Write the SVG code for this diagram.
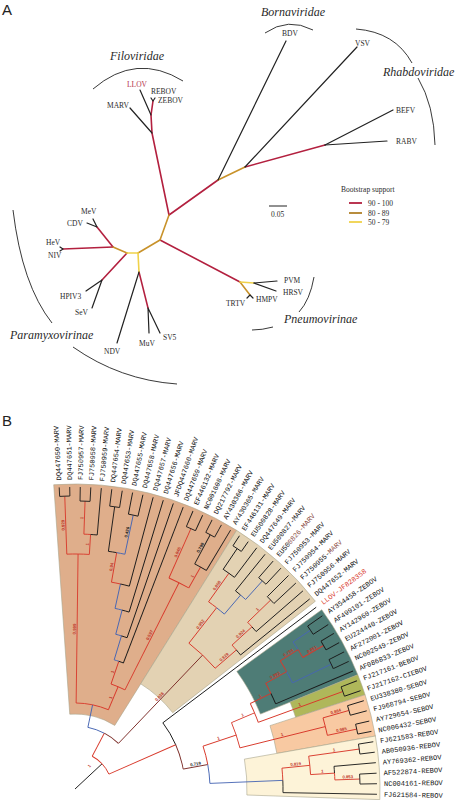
<svg xmlns="http://www.w3.org/2000/svg" width="459" height="800" viewBox="0 0 459 800">
<style>
.ser{font-family:"Liberation Serif","Times New Roman",serif;fill:#2a2a2a}
.tip{font-size:7.5px}
.fam{font-size:12px;font-style:italic}
.lg{font-size:7.5px}
.pan{font-family:"Liberation Sans",Arial,sans-serif;font-size:15px;fill:#222}
.ca{fill:none;stroke-linecap:round;stroke-linejoin:round}
.cr{stroke:#b3203f;stroke-width:1.6}
.co{stroke:#c8922a;stroke-width:1.6}
.cy{stroke:#f0d24a;stroke-width:1.6}
.ck{stroke:#222;stroke-width:1.2}
.arc{fill:none;stroke:#222;stroke-width:0.9}
#treeB line,#treeB circle{fill:none;stroke-width:0.9}
.k{stroke:#1a1a1a}.r{stroke:#d8392b}.b{stroke:#4766b3}.d{stroke:#7b2b26}
.lb{font-family:"Liberation Mono","Courier New",monospace;font-size:7px;fill:#111}
.s{font-family:"Liberation Sans",Arial,sans-serif;font-size:4.3px;font-weight:bold;fill:#c0392b;text-anchor:middle}
.sk{fill:#222}
.reg{stroke:#a9a58c;stroke-width:0.6}
</style>
<rect width="459" height="800" fill="#fff"/>
<!-- PANEL A -->
<text class="pan" x="2" y="15">A</text>
<g id="connectorsA" class="ca">
<path class="cr" d="M169,215 L152,133 L151,115 L153,101"/>
<path class="cr" d="M169,215 L218,180"/>
<path class="cr" d="M245,167 L325,145"/>
<path class="cr" d="M160,240 L240,282"/>
<path class="cr" d="M127,253 L102,280"/>
<path class="cr" d="M113,247 L97,227"/>
<path class="cr" d="M113,247 L63,249"/>
<path class="cr" d="M139,272 L148,308"/>
<path class="co" d="M169,215 L160,240 L138,253"/>
<path class="co" d="M218,180 L245,167"/>
<path class="co" d="M127,253 L113,247"/>
<path class="co" d="M240,282 L250,295"/>
<path class="cy" d="M138,253 L127,253"/>
<path class="cy" d="M138,253 L139,272"/>
<path class="cy" d="M240,282 L254,283"/>
<path class="ck" d="M152,133 L130,108"/>
<path class="ck" d="M151,115 L140,90"/>
<path class="ck" d="M153,101 L151,98 M153,101 L155,98"/>
<path class="ck" d="M218,180 L286,41"/>
<path class="ck" d="M245,167 L357,47"/>
<path class="ck" d="M325,145 L393,110"/>
<path class="ck" d="M325,145 L387,141"/>
<path class="ck" d="M254,283 L277,281"/>
<path class="ck" d="M254,283 L276,291"/>
<path class="ck" d="M250,295 L253,298 M250,295 L247,298"/>
<path class="ck" d="M97,227 L93,219 M97,227 L87,223"/>
<path class="ck" d="M63,249 L60,247 M63,249 L60,251"/>
<path class="ck" d="M102,280 L86,291 M102,280 L92,308"/>
<path class="ck" d="M139,272 L117,343"/>
<path class="ck" d="M148,308 L149,333 M148,308 L160,333"/>
</g>
<g id="cladesA">
<g id="filoviridae"><path class="arc" d="M93,89 Q136,52 183,81"/><text class="ser fam" x="110" y="60">Filoviridae</text></g>
<g id="bornaviridae"><path class="arc" d="M265,33 Q288,17 313,30"/><text class="ser fam" x="261" y="16">Bornaviridae</text></g>
<g id="rhabdoviridae"><path class="arc" d="M356,29 Q395,32 412,63 M418,78 Q434,105 435,145"/><text class="ser fam" x="383" y="76">Rhabdoviridae</text></g>
<g id="pneumovirinae"><path class="arc" d="M314,277 Q310,300 299,312 M273,327 Q262,330 252,330"/><text class="ser fam" x="284" y="323">Pneumovirinae</text></g>
<g id="paramyxovirinae"><path class="arc" d="M13,210 Q22,285 52,323 M73,347 Q120,380 177,384"/><text class="ser fam" x="10" y="339">Paramyxovirinae</text></g>
</g>
<g id="tipsA" class="ser tip">
<g id="a-llov"><text x="127" y="87" fill="#b3314a">LLOV</text></g>
<g id="a-rebov"><text x="151" y="94">REBOV</text></g>
<g id="a-zebov"><text x="158" y="103">ZEBOV</text></g>
<g id="a-marv"><text x="107" y="108">MARV</text></g>
<g id="a-bdv"><text x="282" y="36">BDV</text></g>
<g id="a-vsv"><text x="355" y="46">VSV</text></g>
<g id="a-befv"><text x="396" y="113">BEFV</text></g>
<g id="a-rabv"><text x="396" y="144">RABV</text></g>
<g id="a-pvm"><text x="284" y="283">PVM</text></g>
<g id="a-hrsv"><text x="283" y="295">HRSV</text></g>
<g id="a-hmpv"><text x="256" y="302">HMPV</text></g>
<g id="a-trtv"><text x="226" y="306">TRTV</text></g>
<g id="a-mev"><text x="81" y="214">MeV</text></g>
<g id="a-cdv"><text x="67" y="226">CDV</text></g>
<g id="a-hev"><text x="46" y="245">HeV</text></g>
<g id="a-niv"><text x="48" y="258">NIV</text></g>
<g id="a-hpiv3"><text x="60" y="299">HPIV3</text></g>
<g id="a-sev"><text x="75" y="315">SeV</text></g>
<g id="a-ndv"><text x="104" y="354">NDV</text></g>
<g id="a-muv"><text x="139" y="346">MuV</text></g>
<g id="a-sv5"><text x="163" y="340">SV5</text></g>
</g>
<g id="legendA">
<text class="ser lg" x="341" y="192">Bootstrap support</text>
<line x1="349" y1="203" x2="362" y2="203" stroke="#b3203f" stroke-width="1.8"/>
<line x1="349" y1="213" x2="362" y2="213" stroke="#b08127" stroke-width="1.8"/>
<line x1="349" y1="222" x2="362" y2="222" stroke="#f0d24a" stroke-width="1.8"/>
<text class="ser lg" x="368" y="206">90 - 100</text>
<text class="ser lg" x="368" y="215.5">80 - 89</text>
<text class="ser lg" x="368" y="224.5">50 - 79</text>
<line x1="269" y1="206" x2="287" y2="206" stroke="#222" stroke-width="1"/>
<text class="ser lg" x="271" y="217">0.05</text>
</g>
<!-- PANEL B -->
<text class="pan" x="2" y="426">B</text>
<g id="treeB" transform="translate(75,789) rotate(0.5)">
<g id="regions">
<path class="reg" fill="#dfae8b" d="M-5.88,-74.77 L-23.93,-304.06 A305,305 0 0 1 159.36,-260.06 L39.19,-63.95 A75,75 0 0 0 -5.88,-74.77 Z"/>
<path class="reg" fill="#e3d2b3" d="M64.79,-105.73 L159.36,-260.06 A305,305 0 0 1 238.70,-189.87 L97.04,-77.19 A124,124 0 0 0 64.79,-105.73 Z"/>
<path class="reg" fill="#4e7c76" d="M160.77,-118.96 L245.18,-181.42 A305,305 0 0 1 281.78,-116.72 L184.78,-76.54 A200,200 0 0 0 160.77,-118.96 Z"/>
<path class="reg" fill="#afb75a" d="M214.34,-88.78 L281.78,-116.72 A305,305 0 0 1 289.24,-96.78 L220.01,-73.61 A232,232 0 0 0 214.34,-88.78 Z"/>
<path class="reg" fill="#f8c9a2" d="M194.41,-65.05 L289.24,-96.78 A305,305 0 0 1 299.89,-55.58 L201.57,-37.36 A205,205 0 0 0 194.41,-65.05 Z"/>
<path class="reg" fill="#fdf3d8" d="M169.12,-31.35 L299.89,-55.58 A305,305 0 0 1 304.90,7.98 L171.94,4.50 A172,172 0 0 0 169.12,-31.35 Z"/>
</g>
<g id="connectorsB">
<line class="k" x1="0" x2="37" transform="rotate(-43.5)"/>
<circle class="r" r="37" pathLength="360" stroke-dasharray="19.29 360" transform="rotate(-62.79)"/>
<line class="r" x1="37" x2="63" transform="rotate(-62.79)"/>
<circle class="r" r="37" pathLength="360" stroke-dasharray="19.28 360" transform="rotate(-43.5)"/>
<line class="r" x1="37" x2="110" transform="rotate(-24.22)"/>
<circle class="b" r="63" pathLength="360" stroke-dasharray="15.91 360" transform="rotate(-78.7)"/>
<line class="b" x1="63" x2="86" transform="rotate(-78.7)"/>
<circle class="d" r="63" pathLength="360" stroke-dasharray="15.91 360" transform="rotate(-62.79)"/>
<line class="d" x1="63" x2="185" transform="rotate(-46.88)"/>
<circle class="r" r="86" pathLength="360" stroke-dasharray="11.05 360" transform="rotate(-89.75)"/>
<line class="r" x1="86" x2="235" transform="rotate(-89.75)"/>
<circle class="r" r="86" pathLength="360" stroke-dasharray="11.04 360" transform="rotate(-78.7)"/>
<line class="r" x1="86" x2="111" transform="rotate(-67.66)"/>
<circle class="r" r="235" pathLength="360" stroke-dasharray="2.75 360" transform="rotate(-92.5)"/>
<line class="r" x1="235" x2="293" transform="rotate(-92.5)"/>
<circle class="r" r="235" pathLength="360" stroke-dasharray="2.75 360" transform="rotate(-89.75)"/>
<line class="r" x1="235" x2="255" transform="rotate(-87)"/>
<circle class="k" r="293" pathLength="360" stroke-dasharray="2 360" transform="rotate(-93.5)"/>
<line class="k" x1="293" x2="302" transform="rotate(-93.5)"/>
<line class="k" x1="293" x2="302" transform="rotate(-91.5)"/>
<circle class="r" r="255" pathLength="360" stroke-dasharray="1.5 360" transform="rotate(-88.5)"/>
<line class="r" x1="255" x2="288" transform="rotate(-88.5)"/>
<circle class="k" r="255" pathLength="360" stroke-dasharray="1.5 360" transform="rotate(-87)"/>
<line class="k" x1="255" x2="302" transform="rotate(-85.5)"/>
<circle class="k" r="288" pathLength="360" stroke-dasharray="2 360" transform="rotate(-89.5)"/>
<line class="k" x1="288" x2="302" transform="rotate(-89.5)"/>
<line class="k" x1="288" x2="302" transform="rotate(-87.5)"/>
<circle class="r" r="111" pathLength="360" stroke-dasharray="7.81 360" transform="rotate(-71.56)"/>
<line class="r" x1="111" x2="135" transform="rotate(-71.56)"/>
<line class="r" x1="111" x2="231" transform="rotate(-63.75)"/>
<circle class="b" r="135" pathLength="360" stroke-dasharray="2.065 360" transform="rotate(-73.625)"/>
<line class="b" x1="135" x2="160" transform="rotate(-73.625)"/>
<circle class="k" r="135" pathLength="360" stroke-dasharray="2.06 360" transform="rotate(-71.56)"/>
<line class="k" x1="135" x2="302" transform="rotate(-69.5)"/>
<circle class="b" r="160" pathLength="360" stroke-dasharray="2.125 360" transform="rotate(-75.75)"/>
<line class="b" x1="160" x2="185" transform="rotate(-75.75)"/>
<circle class="k" r="160" pathLength="360" stroke-dasharray="2.125 360" transform="rotate(-73.625)"/>
<line class="k" x1="160" x2="302" transform="rotate(-71.5)"/>
<circle class="b" r="185" pathLength="360" stroke-dasharray="2.25 360" transform="rotate(-78)"/>
<line class="b" x1="185" x2="210" transform="rotate(-78)"/>
<circle class="k" r="185" pathLength="360" stroke-dasharray="2.25 360" transform="rotate(-75.75)"/>
<line class="k" x1="185" x2="302" transform="rotate(-73.5)"/>
<circle class="r" r="210" pathLength="360" stroke-dasharray="2.5 360" transform="rotate(-80.5)"/>
<line class="r" x1="210" x2="240" transform="rotate(-80.5)"/>
<circle class="k" r="210" pathLength="360" stroke-dasharray="2.5 360" transform="rotate(-78)"/>
<line class="k" x1="210" x2="302" transform="rotate(-75.5)"/>
<circle class="k" r="240" pathLength="360" stroke-dasharray="2 360" transform="rotate(-82.5)"/>
<line class="k" x1="240" x2="285" transform="rotate(-82.5)"/>
<circle class="b" r="240" pathLength="360" stroke-dasharray="2 360" transform="rotate(-80.5)"/>
<line class="b" x1="240" x2="280" transform="rotate(-78.5)"/>
<circle class="k" r="285" pathLength="360" stroke-dasharray="2 360" transform="rotate(-83.5)"/>
<line class="k" x1="285" x2="302" transform="rotate(-83.5)"/>
<line class="k" x1="285" x2="302" transform="rotate(-81.5)"/>
<circle class="k" r="280" pathLength="360" stroke-dasharray="2 360" transform="rotate(-79.5)"/>
<line class="k" x1="280" x2="302" transform="rotate(-79.5)"/>
<line class="k" x1="280" x2="302" transform="rotate(-77.5)"/>
<circle class="r" r="231" pathLength="360" stroke-dasharray="5.5 360" transform="rotate(-66.5)"/>
<line class="r" x1="231" x2="285" transform="rotate(-66.5)"/>
<line class="r" x1="231" x2="255" transform="rotate(-61)"/>
<circle class="k" r="285" pathLength="360" stroke-dasharray="2 360" transform="rotate(-67.5)"/>
<line class="k" x1="285" x2="302" transform="rotate(-67.5)"/>
<line class="k" x1="285" x2="302" transform="rotate(-65.5)"/>
<circle class="k" r="255" pathLength="360" stroke-dasharray="3 360" transform="rotate(-62.5)"/>
<line class="k" x1="255" x2="288" transform="rotate(-62.5)"/>
<line class="k" x1="255" x2="302" transform="rotate(-59.5)"/>
<circle class="k" r="288" pathLength="360" stroke-dasharray="2 360" transform="rotate(-63.5)"/>
<line class="k" x1="288" x2="302" transform="rotate(-63.5)"/>
<line class="k" x1="288" x2="302" transform="rotate(-61.5)"/>
<circle class="r" r="185" pathLength="360" stroke-dasharray="11.25 360" transform="rotate(-52.5)"/>
<line class="r" x1="185" x2="230" transform="rotate(-52.5)"/>
<line class="r" x1="185" x2="213" transform="rotate(-41.25)"/>
<circle class="r" r="230" pathLength="360" stroke-dasharray="2.5 360" transform="rotate(-55)"/>
<line class="r" x1="230" x2="265" transform="rotate(-55)"/>
<circle class="b" r="230" pathLength="360" stroke-dasharray="2.5 360" transform="rotate(-52.5)"/>
<line class="b" x1="230" x2="255" transform="rotate(-50)"/>
<circle class="k" r="265" pathLength="360" stroke-dasharray="3 360" transform="rotate(-56.5)"/>
<line class="k" x1="265" x2="290" transform="rotate(-56.5)"/>
<line class="k" x1="265" x2="302" transform="rotate(-53.5)"/>
<circle class="k" r="290" pathLength="360" stroke-dasharray="2 360" transform="rotate(-57.5)"/>
<line class="k" x1="290" x2="302" transform="rotate(-57.5)"/>
<line class="k" x1="290" x2="302" transform="rotate(-55.5)"/>
<circle class="k" r="255" pathLength="360" stroke-dasharray="1.5 360" transform="rotate(-51.5)"/>
<line class="k" x1="255" x2="302" transform="rotate(-51.5)"/>
<circle class="b" r="255" pathLength="360" stroke-dasharray="1.5 360" transform="rotate(-50)"/>
<line class="b" x1="255" x2="280" transform="rotate(-48.5)"/>
<circle class="k" r="280" pathLength="360" stroke-dasharray="2 360" transform="rotate(-49.5)"/>
<line class="k" x1="280" x2="302" transform="rotate(-49.5)"/>
<line class="k" x1="280" x2="302" transform="rotate(-47.5)"/>
<circle class="r" r="213" pathLength="360" stroke-dasharray="1.75 360" transform="rotate(-43)"/>
<line class="r" x1="213" x2="240" transform="rotate(-43)"/>
<circle class="k" r="213" pathLength="360" stroke-dasharray="1.75 360" transform="rotate(-41.25)"/>
<line class="k" x1="213" x2="302" transform="rotate(-39.5)"/>
<circle class="r" r="240" pathLength="360" stroke-dasharray="1.5 360" transform="rotate(-44.5)"/>
<line class="r" x1="240" x2="272" transform="rotate(-44.5)"/>
<circle class="k" r="240" pathLength="360" stroke-dasharray="1.5 360" transform="rotate(-43)"/>
<line class="k" x1="240" x2="302" transform="rotate(-41.5)"/>
<circle class="k" r="272" pathLength="360" stroke-dasharray="2 360" transform="rotate(-45.5)"/>
<line class="k" x1="272" x2="302" transform="rotate(-45.5)"/>
<line class="k" x1="272" x2="302" transform="rotate(-43.5)"/>
<circle class="k" r="110" pathLength="360" stroke-dasharray="13.28 360" transform="rotate(-37.5)"/>
<line class="k" x1="110" x2="302" transform="rotate(-37.5)"/>
<circle class="d" r="110" pathLength="360" stroke-dasharray="13.28 360" transform="rotate(-24.22)"/>
<line class="d" x1="110" x2="135" transform="rotate(-10.94)"/>
<circle class="r" r="135" pathLength="360" stroke-dasharray="8.06 360" transform="rotate(-19)"/>
<line class="r" x1="135" x2="170" transform="rotate(-19)"/>
<circle class="b" r="135" pathLength="360" stroke-dasharray="8.065 360" transform="rotate(-10.94)"/>
<line class="b" x1="135" x2="208" transform="rotate(-2.875)"/>
<circle class="r" r="170" pathLength="360" stroke-dasharray="9 360" transform="rotate(-23.5)"/>
<line class="r" x1="170" x2="195" transform="rotate(-23.5)"/>
<line class="r" x1="170" x2="258" transform="rotate(-14.5)"/>
<circle class="r" r="195" pathLength="360" stroke-dasharray="6 360" transform="rotate(-26.5)"/>
<line class="r" x1="195" x2="218" transform="rotate(-26.5)"/>
<line class="r" x1="195" x2="285" transform="rotate(-20.5)"/>
<circle class="r" r="218" pathLength="360" stroke-dasharray="3 360" transform="rotate(-29.5)"/>
<line class="r" x1="218" x2="242" transform="rotate(-29.5)"/>
<circle class="k" r="218" pathLength="360" stroke-dasharray="3 360" transform="rotate(-26.5)"/>
<line class="k" x1="218" x2="302" transform="rotate(-23.5)"/>
<circle class="r" r="242" pathLength="360" stroke-dasharray="3 360" transform="rotate(-32.5)"/>
<line class="r" x1="242" x2="263" transform="rotate(-32.5)"/>
<circle class="b" r="242" pathLength="360" stroke-dasharray="3 360" transform="rotate(-29.5)"/>
<line class="b" x1="242" x2="285" transform="rotate(-26.5)"/>
<circle class="b" r="263" pathLength="360" stroke-dasharray="2 360" transform="rotate(-34.5)"/>
<line class="b" x1="263" x2="284" transform="rotate(-34.5)"/>
<circle class="r" r="263" pathLength="360" stroke-dasharray="2 360" transform="rotate(-32.5)"/>
<line class="r" x1="263" x2="287" transform="rotate(-30.5)"/>
<circle class="k" r="284" pathLength="360" stroke-dasharray="2 360" transform="rotate(-35.5)"/>
<line class="k" x1="284" x2="302" transform="rotate(-35.5)"/>
<line class="k" x1="284" x2="302" transform="rotate(-33.5)"/>
<circle class="k" r="287" pathLength="360" stroke-dasharray="2 360" transform="rotate(-31.5)"/>
<line class="k" x1="287" x2="302" transform="rotate(-31.5)"/>
<line class="k" x1="287" x2="302" transform="rotate(-29.5)"/>
<circle class="k" r="285" pathLength="360" stroke-dasharray="2 360" transform="rotate(-27.5)"/>
<line class="k" x1="285" x2="302" transform="rotate(-27.5)"/>
<line class="k" x1="285" x2="302" transform="rotate(-25.5)"/>
<circle class="k" r="285" pathLength="360" stroke-dasharray="2 360" transform="rotate(-21.5)"/>
<line class="k" x1="285" x2="302" transform="rotate(-21.5)"/>
<line class="k" x1="285" x2="302" transform="rotate(-19.5)"/>
<circle class="r" r="258" pathLength="360" stroke-dasharray="4 360" transform="rotate(-16.5)"/>
<line class="r" x1="258" x2="285" transform="rotate(-16.5)"/>
<line class="r" x1="258" x2="288" transform="rotate(-12.5)"/>
<circle class="k" r="285" pathLength="360" stroke-dasharray="2 360" transform="rotate(-17.5)"/>
<line class="k" x1="285" x2="302" transform="rotate(-17.5)"/>
<line class="k" x1="285" x2="302" transform="rotate(-15.5)"/>
<circle class="k" r="288" pathLength="360" stroke-dasharray="2 360" transform="rotate(-13.5)"/>
<line class="k" x1="288" x2="302" transform="rotate(-13.5)"/>
<line class="k" x1="288" x2="302" transform="rotate(-11.5)"/>
<circle class="r" r="208" pathLength="360" stroke-dasharray="3.375 360" transform="rotate(-6.25)"/>
<line class="r" x1="208" x2="236" transform="rotate(-6.25)"/>
<circle class="k" r="208" pathLength="360" stroke-dasharray="3.375 360" transform="rotate(-2.875)"/>
<line class="k" x1="208" x2="302" transform="rotate(0.5)"/>
<circle class="r" r="236" pathLength="360" stroke-dasharray="4.5 360" transform="rotate(-8.5)"/>
<line class="r" x1="236" x2="287" transform="rotate(-8.5)"/>
<line class="r" x1="236" x2="260" transform="rotate(-4)"/>
<circle class="k" r="287" pathLength="360" stroke-dasharray="2 360" transform="rotate(-9.5)"/>
<line class="k" x1="287" x2="302" transform="rotate(-9.5)"/>
<line class="k" x1="287" x2="302" transform="rotate(-7.5)"/>
<circle class="k" r="260" pathLength="360" stroke-dasharray="1.5 360" transform="rotate(-5.5)"/>
<line class="k" x1="260" x2="302" transform="rotate(-5.5)"/>
<circle class="r" r="260" pathLength="360" stroke-dasharray="1.5 360" transform="rotate(-4)"/>
<line class="r" x1="260" x2="285" transform="rotate(-2.5)"/>
<circle class="k" r="285" pathLength="360" stroke-dasharray="2 360" transform="rotate(-3.5)"/>
<line class="k" x1="285" x2="302" transform="rotate(-3.5)"/>
<line class="k" x1="285" x2="302" transform="rotate(-1.5)"/>
</g>
<g id="supportB">
<text class="s" x="27" y="-1.2" transform="rotate(-53)">1</text>
<text class="s" x="125" y="-1.2" fill="#7b2b26" transform="rotate(-46.88)">0.838</text>
<text class="s" x="160" y="-1.2" transform="rotate(-89.75)">0.999</text>
<text class="s" x="264" y="-1.2" transform="rotate(-92.5)">0.929</text>
<text class="s" x="245" y="-1.2" transform="rotate(-87)">1</text>
<text class="s" x="271" y="-1.2" transform="rotate(-88.5)">1</text>
<text class="s" x="98" y="-1.2" transform="rotate(-67.66)">1</text>
<text class="s" x="123" y="-1.2" transform="rotate(-71.56)">1</text>
<text class="s" x="225" y="-1.2" transform="rotate(-80.5)">0.94</text>
<text class="s sk" x="262" y="-1.2" transform="rotate(-78.5)">0.426</text>
<text class="s" x="171" y="-1.2" transform="rotate(-63.75)">0.597</text>
<text class="s" x="258" y="-1.2" transform="rotate(-66.5)">0.946</text>
<text class="s" x="243" y="-1.2" transform="rotate(-61)">1</text>
<text class="s sk" x="272" y="-1.2" transform="rotate(-62.5)">0.798</text>
<text class="s" x="207" y="-1.2" transform="rotate(-52.5)">0.952</text>
<text class="s" x="199" y="-1.2" transform="rotate(-41.25)">0.929</text>
<text class="s" x="248" y="-1.2" transform="rotate(-55)">0.858</text>
<text class="s" x="227" y="-1.2" transform="rotate(-43)">0.924</text>
<text class="s" x="256" y="-1.2" transform="rotate(-44.5)">1</text>
<text class="s sk" x="123" y="-1.2" transform="rotate(-10.94)">0.719</text>
<text class="s" x="152" y="-1.2" transform="rotate(-19)">1</text>
<text class="s" x="183" y="-1.2" transform="rotate(-23.5)">1</text>
<text class="s" x="207" y="-1.2" transform="rotate(-26.5)">1</text>
<text class="s" x="230" y="-1.2" transform="rotate(-29.5)">0.993</text>
<text class="s" x="253" y="-1.2" transform="rotate(-32.5)">0.794</text>
<text class="s" x="275" y="-1.2" transform="rotate(-30.5)">0.861</text>
<text class="s" x="240" y="-1.2" transform="rotate(-20.5)">1</text>
<text class="s" x="214" y="-1.2" transform="rotate(-14.5)">1</text>
<text class="s" x="272" y="-1.2" transform="rotate(-16.5)">0.864</text>
<text class="s" x="273" y="-1.2" transform="rotate(-12.5)">0.985</text>
<text class="s" x="222" y="-1.2" transform="rotate(-6.25)">0.819</text>
<text class="s" x="262" y="-1.2" transform="rotate(-8.5)">1</text>
<text class="s" x="248" y="-1.2" transform="rotate(-4)">1</text>
<text class="s" x="273" y="-1.2" transform="rotate(-2.5)">0.853</text>
</g>
<g id="leavesB" class="lb">
<g id="b01"><text x="309" dy="2.4" transform="rotate(-93.5)">DQ447650-MARV</text></g>
<g id="b02"><text x="309" dy="2.4" transform="rotate(-91.5)">DQ447651-MARV</text></g>
<g id="b03"><text x="309" dy="2.4" transform="rotate(-89.5)">FJ750957-MARV</text></g>
<g id="b04"><text x="309" dy="2.4" transform="rotate(-87.5)">FJ750958-MARV</text></g>
<g id="b05"><text x="309" dy="2.4" transform="rotate(-85.5)">FJ750959-MARV</text></g>
<g id="b06"><text x="309" dy="2.4" transform="rotate(-83.5)">DQ447654-MARV</text></g>
<g id="b07"><text x="309" dy="2.4" transform="rotate(-81.5)">DQ447653-MARV</text></g>
<g id="b08"><text x="309" dy="2.4" transform="rotate(-79.5)">DQ447655-MARV</text></g>
<g id="b09"><text x="309" dy="2.4" transform="rotate(-77.5)">DQ447658-MARV</text></g>
<g id="b10"><text x="309" dy="2.4" transform="rotate(-75.5)">DQ447657-MARV</text></g>
<g id="b11"><text x="309" dy="2.4" transform="rotate(-73.5)">DQ447656-MARV</text></g>
<g id="b12"><text x="309" dy="2.4" transform="rotate(-71.5)">JFDQ447660-MARV</text></g>
<g id="b13"><text x="309" dy="2.4" transform="rotate(-69.5)">DQ447659-MARV</text></g>
<g id="b14"><text x="309" dy="2.4" transform="rotate(-67.5)">EF446132-MARV</text></g>
<g id="b15"><text x="309" dy="2.4" transform="rotate(-65.5)">NC001608-MARV</text></g>
<g id="b16"><text x="309" dy="2.4" transform="rotate(-63.5)">DQ217792-MARV</text></g>
<g id="b17"><text x="309" dy="2.4" transform="rotate(-61.5)">AY430366-MARV</text></g>
<g id="b18"><text x="309" dy="2.4" transform="rotate(-59.5)">AY430365-MARV</text></g>
<g id="b19"><text x="309" dy="2.4" transform="rotate(-57.5)">EF446131-MARV</text></g>
<g id="b20"><text x="309" dy="2.4" transform="rotate(-55.5)">EU500828-MARV</text></g>
<g id="b21"><text x="309" dy="2.4" transform="rotate(-53.5)">DQ447649-MARV</text></g>
<g id="b22"><text x="309" dy="2.4" transform="rotate(-51.5)">EU500827-MARV</text></g>
<g id="b23"><text x="309" dy="2.4" transform="rotate(-49.5)">EU50<tspan fill="#8a4b45">0826-MARV</tspan></text></g>
<g id="b24"><text x="309" dy="2.4" transform="rotate(-47.5)">FJ750953-MARV</text></g>
<g id="b25"><text x="309" dy="2.4" transform="rotate(-45.5)">FJ750954-MARV</text></g>
<g id="b26"><text x="309" dy="2.4" transform="rotate(-43.5)">FJ750955-<tspan fill="#8a4b45">MARV</tspan></text></g>
<g id="b27"><text x="309" dy="2.4" transform="rotate(-41.5)">FJ750956-MARV</text></g>
<g id="b28"><text x="309" dy="2.4" transform="rotate(-39.5)">DQ447652-MARV</text></g>
<g id="b29"><text x="309" dy="2.4" fill="#d8392b" transform="rotate(-37.5)">LLOV-JF828358</text></g>
<g id="b30"><text x="309" dy="2.4" transform="rotate(-35.5)">AY354458-ZEBOV</text></g>
<g id="b31"><text x="309" dy="2.4" transform="rotate(-33.5)">AF499101-ZEBOV</text></g>
<g id="b32"><text x="309" dy="2.4" transform="rotate(-31.5)">AY142960-ZEBOV</text></g>
<g id="b33"><text x="309" dy="2.4" transform="rotate(-29.5)">EU224440-ZEBOV</text></g>
<g id="b34"><text x="309" dy="2.4" transform="rotate(-27.5)">AF272001-ZEBOV</text></g>
<g id="b35"><text x="309" dy="2.4" transform="rotate(-25.5)">NC002549-ZEBOV</text></g>
<g id="b36"><text x="309" dy="2.4" transform="rotate(-23.5)">AF086833-ZEBOV</text></g>
<g id="b37"><text x="309" dy="2.4" transform="rotate(-21.5)">FJ217161-BEBOV</text></g>
<g id="b38"><text x="309" dy="2.4" transform="rotate(-19.5)">FJ217162-CIEBOV</text></g>
<g id="b39"><text x="309" dy="2.4" transform="rotate(-17.5)">EU338380-SEBOV</text></g>
<g id="b40"><text x="309" dy="2.4" transform="rotate(-15.5)">FJ968794-SEBOV</text></g>
<g id="b41"><text x="309" dy="2.4" transform="rotate(-13.5)">AY729654-SEBOV</text></g>
<g id="b42"><text x="309" dy="2.4" transform="rotate(-11.5)">NC006432-SEBOV</text></g>
<g id="b43"><text x="309" dy="2.4" transform="rotate(-9.5)">FJ621583-REBOV</text></g>
<g id="b44"><text x="309" dy="2.4" transform="rotate(-7.5)">AB050936-REBOV</text></g>
<g id="b45"><text x="309" dy="2.4" transform="rotate(-5.5)">AY769362-REBOV</text></g>
<g id="b46"><text x="309" dy="2.4" transform="rotate(-3.5)">AF522874-REBOV</text></g>
<g id="b47"><text x="309" dy="2.4" transform="rotate(-1.5)">NC004161-REBOV</text></g>
<g id="b48"><text x="309" dy="2.4" transform="rotate(0.5)">FJ621584-REBOV</text></g>
</g>
</g>
</svg>
